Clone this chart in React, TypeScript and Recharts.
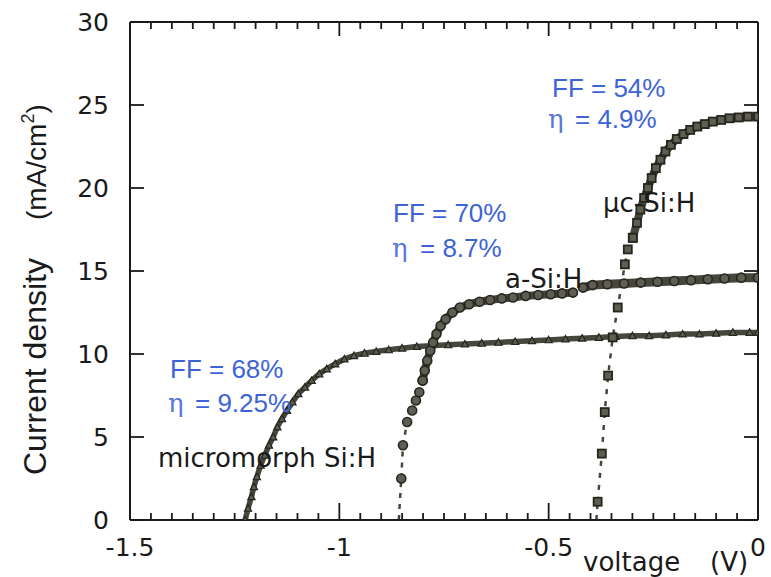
import React from 'react';
import { ComposedChart, Line, XAxis, YAxis } from 'recharts';

// ---------- axis ticks ----------
const xAllTicks = [
  -1.5, -1.45, -1.4, -1.35, -1.3, -1.25, -1.2, -1.15, -1.1, -1.05,
  -1.0, -0.95, -0.9, -0.85, -0.8, -0.75, -0.7, -0.65, -0.6, -0.55,
  -0.5, -0.45, -0.4, -0.35, -0.3, -0.25, -0.2, -0.15, -0.1, -0.05, 0,
];
const xMajorTicks = [-1.5, -1, -0.5, 0];
const xMajorLabels = ['-1.5', '-1', '-0.5', '0'];
const yTicks = [0, 5, 10, 15, 20, 25, 30];
const yLabels = ['0', '5', '10', '15', '20', '25', '30'];

// ---------- micromorph Si:H (triangles) ----------
const microV = [
  -1.225, -1.218, -1.21, -1.204, -1.197, -1.188, -1.178, -1.168, -1.158, -1.148,
  -1.137, -1.125, -1.112, -1.098, -1.082, -1.066, -1.048, -1.03, -1.01, -0.988,
  -0.965, -0.94, -0.912, -0.882, -0.85, -0.815, -0.78, -0.74, -0.7, -0.66,
  -0.62, -0.58, -0.54, -0.5, -0.46, -0.42, -0.38, -0.34, -0.3, -0.26,
  -0.22, -0.18, -0.14, -0.1, -0.06, -0.02, 0,
];
const microJ = [
  0.0, 0.7, 1.4, 2.0, 2.6, 3.3, 3.9, 4.5, 5.0, 5.6,
  6.1, 6.6, 7.1, 7.6, 8.0, 8.4, 8.8, 9.1, 9.4, 9.7,
  9.9, 10.05, 10.15, 10.25, 10.35, 10.45, 10.5, 10.55, 10.6, 10.65,
  10.7, 10.75, 10.8, 10.85, 10.9, 10.95, 11.0, 11.05, 11.1, 11.1,
  11.15, 11.2, 11.2, 11.25, 11.3, 11.3, 11.3,
];

// ---------- a-Si:H (circles) ----------
const aSiStubV = [-0.858, -0.852];
const aSiStubJ = [0, 2.5];
const aSiSparseV = [-0.852, -0.848, -0.838, -0.826, -0.817, -0.809, -0.801];
const aSiSparseJ = [2.5, 4.5, 5.9, 6.6, 7.2, 7.7, 8.4];
const aSiDenseLeftV = [
  -0.801, -0.796, -0.79, -0.783, -0.776, -0.768, -0.758, -0.746, -0.73, -0.712,
  -0.69, -0.665, -0.64, -0.612, -0.585, -0.555, -0.525, -0.495, -0.468, -0.442,
];
const aSiDenseLeftJ = [
  8.4, 9.0, 9.6, 10.2, 10.7, 11.2, 11.7, 12.1, 12.5, 12.8,
  13.0, 13.15, 13.25, 13.35, 13.4, 13.5, 13.55, 13.6, 13.65, 13.7,
];
const aSiDenseRightV = [
  -0.418, -0.395, -0.36, -0.32, -0.28, -0.24, -0.2, -0.16, -0.12, -0.08, -0.04, 0,
];
const aSiDenseRightJ = [
  14.0, 14.15, 14.2, 14.25, 14.3, 14.35, 14.4, 14.45, 14.5, 14.55, 14.6, 14.6,
];

// ---------- µc-Si:H (squares) ----------
const ucStubV = [-0.386, -0.383];
const ucStubJ = [0, 1.1];
const ucSparseV = [-0.383, -0.373, -0.366, -0.358, -0.347, -0.335, -0.318, -0.311, -0.299];
const ucSparseJ = [1.1, 4.0, 6.5, 8.7, 11.0, 12.8, 15.4, 16.3, 17.0];
const ucDenseV = [
  -0.299, -0.289, -0.281, -0.272, -0.263, -0.254, -0.244, -0.233, -0.221, -0.208,
  -0.194, -0.178, -0.162, -0.145, -0.127, -0.108, -0.088, -0.068, -0.046, -0.024, 0,
];
const ucDenseJ = [
  17.0, 17.9, 18.7, 19.4, 20.0, 20.6, 21.2, 21.7, 22.2, 22.6,
  22.95, 23.25, 23.5, 23.7, 23.85, 24.0, 24.1, 24.2, 24.25, 24.3, 24.3,
];

const pts = (vs: number[], js: number[]) => vs.map((v, i) => ({ v, j: js[i] }));

const INK = '#1a1a1a';
const BAND = '#46463c';
const MARK_FILL = '#5e5e52';
const MARK_STROKE = '#26261f';
const BLUE = '#3e63d6';
const BLUE_ETA = '#5a78d8';

const isMajor = (v: number) => xMajorTicks.findIndex((m) => Math.abs(m - v) < 1e-6);

const BottomTick = (p: any) => {
  const { x, y, payload } = p;
  const mi = isMajor(payload.value);
  return (
    <g>
      <line x1={x} y1={y} x2={x} y2={y - (mi >= 0 ? 17 : 7)} stroke="#1a1a1a" strokeWidth={1.8} />
      {mi >= 0 && (
        <text x={x} y={y + 27} textAnchor="middle" dominantBaseline="central"
          fontFamily="DejaVu Sans" fontSize={25} fill={INK}>{xMajorLabels[mi]}</text>
      )}
    </g>
  );
};

const TopTick = (p: any) => {
  const { x, y, payload } = p;
  const mi = isMajor(payload.value);
  return <line x1={x} y1={y} x2={x} y2={y + (mi >= 0 ? 14 : 7)} stroke="#1a1a1a" strokeWidth={1.8} />;
};

const LeftTick = (p: any) => {
  const { x, y, payload } = p;
  const idx = yTicks.indexOf(payload.value);
  return (
    <g>
      <line x1={x} y1={y} x2={x + 14} y2={y} stroke="#1a1a1a" strokeWidth={1.8} />
      <text x={x - 21} y={y} textAnchor="end" dominantBaseline="central"
        fontFamily="DejaVu Sans" fontSize={25} fill={INK}>{yLabels[idx]}</text>
    </g>
  );
};

const RightTick = (p: any) => {
  const { x, y } = p;
  return <line x1={x} y1={y} x2={x - 14} y2={y} stroke="#1a1a1a" strokeWidth={1.8} />;
};

const triDot = (p: any) => {
  const { cx, cy, index } = p;
  if (cx == null || cy == null) return <g key={index} />;
  const s = 3.6;
  return (
    <path key={index} d={`M${cx},${cy - s} L${cx + s},${cy + s * 0.8} L${cx - s},${cy + s * 0.8} Z`}
      fill={MARK_FILL} stroke={MARK_STROKE} strokeWidth={1.2} />
  );
};
const circDot = (p: any) => {
  const { cx, cy, index } = p;
  if (cx == null || cy == null) return <g key={index} />;
  return <circle key={index} cx={cx} cy={cy} r={4.5} fill={MARK_FILL} stroke={MARK_STROKE} strokeWidth={1.6} />;
};
const sqDot = (p: any) => {
  const { cx, cy, index } = p;
  if (cx == null || cy == null) return <g key={index} />;
  const s = 4;
  return <rect key={index} x={cx - s} y={cy - s} width={2 * s} height={2 * s} fill={MARK_FILL} stroke={MARK_STROKE} strokeWidth={1.8} />;
};

const common = { type: 'linear' as const, dataKey: 'j', xAxisId: 'b', yAxisId: 'l', activeDot: false, isAnimationActive: false, legendType: 'none' as const };
const axisLineStyle = { stroke: '#1a1a1a', strokeWidth: 2 };

export default function App() {
  const W = 771;
  const H = 577;
  return (
    <div style={{ position: 'absolute', left: 0, top: 0, width: W, height: H, overflow: 'hidden', background: '#fff' }}>
      <ComposedChart width={W} height={H} margin={{ top: 12, right: 3, bottom: 27, left: 100 }}>
        <XAxis xAxisId="b" type="number" dataKey="v" domain={[-1.5, 0]} allowDataOverflow ticks={xAllTicks}
          interval={0} height={30} tickSize={0} tickMargin={0} tick={<BottomTick />}
          axisLine={axisLineStyle} tickLine={false} />
        <XAxis xAxisId="t" orientation="top" type="number" dataKey="v" domain={[-1.5, 0]} allowDataOverflow
          ticks={xAllTicks} interval={0} height={10} tickSize={0} tickMargin={0} tick={<TopTick />}
          axisLine={axisLineStyle} tickLine={false} />
        <YAxis yAxisId="l" type="number" domain={[0, 30]} allowDataOverflow ticks={yTicks} interval={0}
          width={30} tickSize={0} tickMargin={0} tick={<LeftTick />}
          axisLine={axisLineStyle} tickLine={false} />
        <YAxis yAxisId="r" orientation="right" type="number" domain={[0, 30]} allowDataOverflow ticks={yTicks}
          interval={0} width={10} tickSize={0} tickMargin={0} tick={<RightTick />}
          axisLine={axisLineStyle} tickLine={false} />

        <Line {...common} data={pts(microV, microJ)} stroke={BAND} strokeWidth={5.5} dot={triDot} />

        <Line {...common} data={pts(aSiStubV, aSiStubJ)} stroke={BAND} strokeWidth={2.5} strokeDasharray="5 6" dot={false} />
        <Line {...common} data={pts(aSiSparseV, aSiSparseJ)} stroke={BAND} strokeWidth={2.5} strokeDasharray="5 6" dot={circDot} />
        <Line {...common} data={pts(aSiDenseLeftV, aSiDenseLeftJ)} stroke={BAND} strokeWidth={8} dot={circDot} />
        <Line {...common} data={pts(aSiDenseRightV, aSiDenseRightJ)} stroke={BAND} strokeWidth={9} dot={circDot} />

        <Line {...common} data={pts(ucStubV, ucStubJ)} stroke={BAND} strokeWidth={2.5} strokeDasharray="5 6" dot={false} />
        <Line {...common} data={pts(ucSparseV, ucSparseJ)} stroke={BAND} strokeWidth={2.5} strokeDasharray="5 7" dot={sqDot} />
        <Line {...common} data={pts(ucDenseV, ucDenseJ)} stroke={BAND} strokeWidth={8} dot={sqDot} />

        <Line type="linear" dataKey="j" xAxisId="t" yAxisId="r" data={pts(ucDenseV, ucDenseJ)} stroke="none"
          dot={false} activeDot={false} isAnimationActive={false} legendType="none" />
      </ComposedChart>

      <svg width={W} height={H} style={{ position: 'absolute', left: 0, top: 0, pointerEvents: 'none' }}>
        <g fontFamily="Liberation Sans, Arial, sans-serif" fontSize={26} fill={BLUE}>
          <text x={552} y={97}>FF = 54%</text>
          <text y={128}><tspan x={548} fontFamily="DejaVu Serif" fill={BLUE_ETA}>η</tspan><tspan x={575}>= 4.9%</tspan></text>
          <text x={393} y={222}>FF = 70%</text>
          <text y={257}><tspan x={392} fontFamily="DejaVu Serif" fill={BLUE_ETA}>η</tspan><tspan x={420}>= 8.7%</tspan></text>
          <text x={170} y={378}>FF = 68%</text>
          <text y={412}><tspan x={168} fontFamily="DejaVu Serif" fill={BLUE_ETA}>η</tspan><tspan x={195}>= 9.25%</tspan></text>
        </g>
        <g fontFamily="DejaVu Sans" fontSize={26} fill={INK}>
          <text x={603} y={212}>μc-Si:H</text>
          <text x={505} y={288}>a-Si:H</text>
          <text x={158} y={467}>micromorph Si:H</text>
          <text y={571}><tspan x={583}>voltage</tspan><tspan x={710}>(V)</tspan></text>
        </g>
        <g fontFamily="Liberation Sans, Arial, sans-serif" fill={INK}>
          <text transform="translate(46,475) rotate(-90)" fontSize={32}>Current density</text>
          <text transform="translate(46,220) rotate(-90)" fontSize={28}>
            (mA/cm<tspan fontSize={18} dy={-12}>2</tspan><tspan dy={12}>)</tspan>
          </text>
        </g>
      </svg>
    </div>
  );
}
